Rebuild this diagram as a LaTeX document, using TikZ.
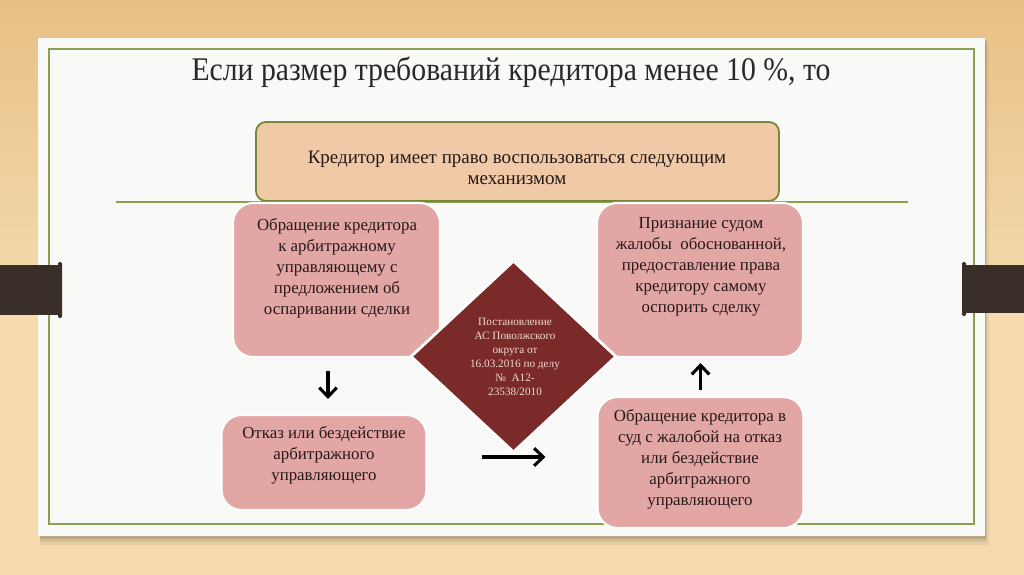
\documentclass[tikz,border=0pt]{standalone}
\usepackage{fontspec}
\setmainfont{Liberation Serif}
\newfontfamily\titlefont[FakeStretch=0.9]{Liberation Serif}
\usetikzlibrary{shapes.geometric,arrows.meta,calc}
\definecolor{wood}{RGB}{232,192,134}
\definecolor{woodlight}{RGB}{244,218,172}
\definecolor{paper}{RGB}{249,249,248}
\definecolor{frame}{RGB}{138,160,78}
\definecolor{peach}{RGB}{240,201,167}
\definecolor{olive}{RGB}{120,135,58}
\definecolor{rose}{RGB}{226,167,165}
\definecolor{maroon}{RGB}{122,42,40}
\definecolor{tab}{RGB}{58,47,40}
\definecolor{ink}{RGB}{40,25,25}
\definecolor{titleink}{RGB}{45,40,40}
\definecolor{pale}{RGB}{242,218,208}
\tikzset{
  box/.style={draw=white, line width=1.5pt, fill=rose, rounded corners=0.5cm, inner sep=0pt},
  boxtext/.style={text=ink, align=center, font=\fontsize{12}{15}\selectfont, inner sep=0pt},
  arr/.style={line width=2.2pt, -{Straight Barb[length=6.5pt,width=12.5pt]}},
}
\begin{document}
\begin{tikzpicture}[x=0.025cm,y=-0.025cm]
\useasboundingbox (0,0) rectangle (1024,574);
% wood background
\shade[top color=wood, bottom color=woodlight, middle color=woodlight] (0,0) rectangle (1024,574);
% paper shadow
\fill[black,opacity=0.05] (40,42) rectangle (989,545);
\fill[black,opacity=0.08] (40,40) rectangle (987,542);
\fill[black,opacity=0.10] (40,40) rectangle (986,539);
% paper
\fill[paper] (38,38) rectangle (985,536);
\draw[frame, line width=1.1pt] (49,49) rectangle (974,524);
% binder tabs
\fill[tab] (0,265) rectangle (60,315);
\fill[tab, rounded corners=1] (58,262) rectangle (62,318);
\fill[tab] (965,265) rectangle (1024,313);
\fill[tab, rounded corners=1] (962,262) rectangle (966,316);
% title
\node[anchor=base, text=titleink, inner sep=0pt] (title) at (511,80)
  {\titlefont\fontsize{23.5}{27}\selectfont Если размер требований кредитора менее 10~\%, то};
% rule line
\draw[frame, line width=1.1pt] (116,202) -- (908,202);
% header box
\node[draw=olive, fill=peach, line width=1.3pt, rounded corners=0.25cm,
      minimum width=523*0.025cm, minimum height=79*0.025cm, inner sep=0pt] (head) at (517.5,161.5) {};
\node[boxtext, font=\fontsize{13.5}{15}\selectfont] (headtext) at (517,168)
  {Кредитор имеет право воспользоваться следующим\\механизмом};
% boxes
\node[box, minimum width=207*0.025cm, minimum height=154*0.025cm] (b1) at (336.5,280) {};
\node[box, minimum width=206*0.025cm, minimum height=154*0.025cm] (b2) at (700,280) {};
\node[box, minimum width=205*0.025cm, minimum height=95*0.025cm] (b3) at (324,462.5) {};
\node[box, minimum width=206*0.025cm, minimum height=131*0.025cm] (b4) at (700.5,462.5) {};
\node[boxtext] (t1) at (337,268)
  {Обращение кредитора\\к арбитражному\\управляющему с\\предложением об\\оспаривании сделки};
\node[boxtext] (t2) at (701,266.5)
  {Признание судом\\жалобы\ \ обоснованной,\\предоставление права\\кредитору самому\\оспорить сделку};
\node[boxtext] (t3) at (324,455.5)
  {Отказ или бездействие\\арбитражного\\управляющего};
\node[boxtext] (t4) at (700,459)
  {Обращение кредитора в\\суд с жалобой на отказ\\или бездействие\\арбитражного\\управляющего};
% diamond
\node[diamond, draw=white, line width=2pt, fill=maroon, inner sep=0pt, aspect=1.07,
      minimum width=206*0.025cm, minimum height=192*0.025cm] (dia) at (513.5,356.5) {};
\node[text=pale, align=center, inner sep=0pt, font=\fontsize{8}{10}\selectfont] (diatext) at (515,357)
  {Постановление\\АС Поволжского\\округа от\\16.03.2016 по делу\\№\ \ А12-\\23538/2010};
% arrows
\draw[arr] ($(b1.south)+(-8.5,13)$) -- ($(b3.north)+(4,-15)$);
\coordinate (ra) at (482,457);
\coordinate (rb) at ($(b4.west)+(-51,0)$);
\draw[arr] (ra) -- (rb |- ra);
\draw[arr] ($(b4.north)+(0,-6)$) -- ($(b2.south)+(0.5,5)$);
\end{tikzpicture}
\end{document}
